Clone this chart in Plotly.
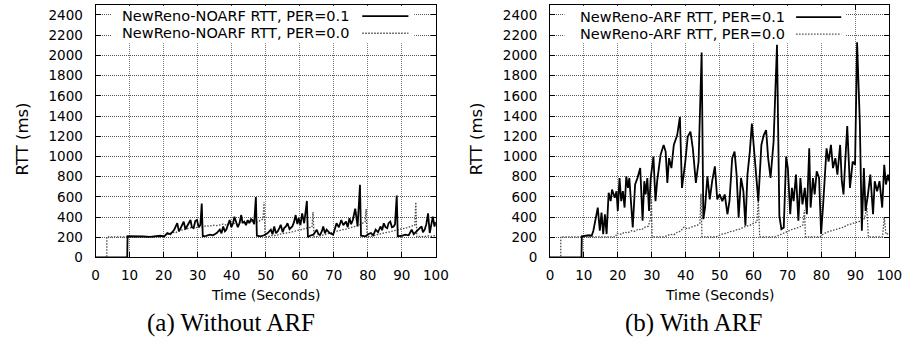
import plotly.graph_objects as go

# ---------------- data ----------------
# (a) Without ARF : PER = 0.1
noarf_p1_t = [0, 9.3, 9.4, 12, 14, 16, 18, 19, 20.2, 21.1, 22, 23.1, 24, 24.5, 25, 25.5, 25.9, 26.4,
              26.9, 27.4, 27.9, 28.3, 28.8, 29.3, 29.8, 30.3, 30.8, 31.2, 31.5, 32.5, 33.6, 34.5,
              35.6, 36.5, 37, 37.5, 38, 38.4, 38.9, 39.4, 39.9, 40.4, 40.8, 41.3, 41.8, 42.3, 42.8,
              43.2, 43.7, 44.2, 44.7, 45.2, 45.7, 46.1, 46.6, 47.1, 47.4, 48.5, 49.5, 50.6, 51.5,
              52, 52.5, 53, 53.5, 54, 54.4, 55, 55.4, 56, 56.4, 57, 57.8, 58.3, 58.8, 59.3, 59.7,
              60.2, 60.7, 61.3, 62.1, 62.4, 63, 64, 65, 65.5, 66, 66.5, 66.9, 67.4, 67.9, 68.8,
              69.8, 70.3, 70.8, 71.5, 72.2, 72.8, 73.6, 74.1, 74.6, 75.1, 75.6, 76.3, 77, 77.7, 78,
              79.4, 80.1, 80.9, 81.6, 82.3, 83, 83.7, 84.2, 84.7, 85.2, 85.7, 86.1, 86.6, 87.1,
              87.6, 88, 88.5, 88.8, 90, 91, 92, 92.9, 93.5, 94.3, 95, 95.8, 96.2, 96.7, 97.2, 97.7,
              98.2, 98.6, 99.1, 99.6, 100]
noarf_p1_v = [0, 0, 210, 212, 208, 205, 210, 215, 210, 242, 230, 275, 340, 260, 290, 330, 355, 280,
              307, 345, 371, 300, 290, 360, 371, 300, 323, 533, 210, 215, 226, 220,
              242, 275, 240, 307, 260, 275, 330, 371, 300, 339, 404, 340, 300, 339, 420,
              340, 355, 320, 370, 340, 380, 371, 330, 598, 215, 210, 220, 242, 275,
              230, 307, 240, 258, 290, 323, 250, 290, 310, 339, 280, 307, 350, 420, 330, 388,
              320, 436, 339, 560, 200, 215, 226, 275, 230, 226, 260, 307, 240, 275, 242,
              226, 280, 339, 300, 371, 320, 355, 300, 388, 330, 371, 484, 307, 720, 215,
              210, 230, 242, 220, 275, 250, 307, 270, 339, 300, 290, 340, 355, 300,
              307, 330, 613, 210, 215, 226, 220, 275, 230, 258, 280, 307, 250, 275, 330, 436,
              242, 330, 404, 307, 350]

# (a) Without ARF : PER = 0.0
noarf_p0_t = [0, 3.3, 3.3, 19.5, 20.5, 21.5, 22.5, 23.5, 24.5, 25.5, 26.5, 27.5, 28.5, 29.5, 30.5,
              31.5, 32.5, 33.5, 34.5, 35.5, 36.5, 37.5, 38.5, 39.5, 40.5, 41.5, 42.5, 43.5, 44.5,
              45.5, 46.5, 47.5, 48.5, 49.2, 49.5, 49.8, 51, 52, 53, 54, 55, 56, 57, 58, 59, 60, 61,
              62, 63, 63.6, 63.9, 64.2, 65.5, 66.5, 67.5, 68.5, 69.5, 70.5, 71.5, 72.5, 73.5, 74.5,
              75.5, 76.5, 77.5, 78.5, 79.2, 79.5, 79.8, 81, 82, 83, 84, 85, 86, 87, 88, 89, 90, 91,
              92, 93, 93.8, 94.1, 94.4, 95.5, 96.5, 97.5, 98.5, 99.5, 100]
noarf_p0_v = [0, 0, 205, 205, 220, 230, 250, 245, 265, 270, 280, 290, 300, 295, 305,
              300, 315, 310, 320, 315, 325, 330, 320, 335, 340, 330, 345, 350, 340,
              355, 360, 350, 370, 380, 550, 205, 210, 220, 215, 230, 235, 240, 250, 255, 265, 270, 280,
              290, 300, 300, 450, 205, 210, 220, 230, 240, 245, 255, 265, 275, 280, 290,
              300, 310, 320, 340, 350, 480, 205, 210, 220, 225, 235, 245, 250, 260, 265, 275, 285, 290,
              300, 310, 320, 548, 205, 210, 205, 215, 210, 215, 210]

# (b) With ARF : PER = 0.1
arf_p1_t = [0, 9.3, 9.4, 10.5, 11.5, 12.3, 12.8, 14.1, 14.7, 15.2, 15.7, 16.2, 16.7, 17.3, 17.9,
            18.3, 19.1, 19.6, 20.0, 20.5, 21.0, 21.5, 22.0, 22.5, 23.0, 23.4, 23.9, 24.4, 25.1,
            25.8, 26.6, 27.3, 27.8, 28.2, 28.7, 29.2, 29.7, 30.5, 31.1, 31.6, 32.6, 33.5, 34.1,
            34.6, 35.1, 35.8, 36.5, 37.5, 38.3, 38.9, 39.9, 40.6, 41.4, 42.1, 43.0, 43.8, 44.7,
            45.2, 45.7, 46.4, 47.1, 47.8, 48.6, 49.3, 50.0, 50.8, 51.5, 52.3, 52.9, 53.7, 54.4,
            55.0, 55.6, 56.3, 57.0, 57.6, 58.2, 58.9, 59.5, 60.2, 60.8, 61.4, 62.3, 63.0, 63.7,
            64.3, 65.0, 65.9, 66.9, 67.6, 68.2, 68.9, 69.6, 70.1, 70.8, 71.3, 71.8, 72.5, 73.2,
            73.8, 74.4, 75.1, 75.7, 76.4, 76.8, 77.5, 78.0, 78.6, 79.3, 79.9, 80.5, 81.5, 82.1,
            82.8, 83.4, 84.1, 84.7, 85.5, 86.0, 86.5, 87.0, 87.6, 88.4, 89.2, 89.9, 90.5, 91.3,
            91.9, 92.5, 93.0, 93.7, 94.4, 95.2, 95.7, 96.4, 97.1, 97.9, 98.5, 99.0, 99.6, 100]
arf_p1_v = [0, 0, 210, 215, 220, 216, 265, 494, 265, 444, 232, 428, 232, 640, 558,
            673, 591, 656, 461, 787, 558, 656, 494, 804, 689, 787, 526, 297, 722,
            787, 885, 363, 755, 624, 787, 461, 787, 999, 558, 755, 1016, 1114, 1048,
            738, 983, 885, 1114, 1212, 1391, 689, 950, 1196, 1245, 1081, 738, 950, 2028,
            379, 494, 804, 575, 755, 902, 575, 624, 558, 624, 428, 558, 983, 1048,
            820, 395, 787, 656, 314, 820, 1048, 1326, 1016, 755, 558, 1114, 1212, 1261,
            983, 787, 1147, 2105, 412, 281, 297, 999, 885, 428, 689, 558, 820, 363,
            787, 526, 689, 428, 1081, 494, 787, 624, 853, 787, 232, 526, 1081, 950,
            1114, 885, 983, 820, 1114, 755, 624, 950, 1300, 689, 950, 918, 2130, 1343,
            265, 885, 461, 624, 820, 428, 755, 656, 755, 494, 918, 722, 820, 755]

# (b) With ARF : PER = 0.0
arf_p0_t = [0, 3.2, 3.2, 19.3, 19.8, 21, 22, 23, 24, 25, 26, 27, 28, 29, 29.6, 29.9, 30.1, 33.5,
            34.5, 35.5, 36.5, 37.5, 38.5, 39.5, 40.5, 41.5, 42.5, 43.5, 44.2, 44.5, 44.8, 49, 50,
            51, 52, 53, 54, 55, 56, 57, 58, 59, 60, 61, 61.4, 61.8, 66.5, 67.5, 68.5, 69.5, 70.5,
            71.5, 72.5, 73.5, 74.5, 75, 75.3, 79.6, 80.5, 81.5, 82.5, 83.5, 84.5, 85.5, 86.5,
            87.5, 88.5, 89.5, 90.5, 91.5, 92.5, 93.4, 93.8, 98, 98.5, 99, 100]
arf_p0_v = [0, 0, 205, 205, 240, 230, 250, 245, 265, 260, 280, 275, 300, 310, 380, 600, 205, 205,
            215, 230, 225, 250, 260, 300, 285, 300, 310, 320, 340, 630, 205, 205, 220,
            235, 240, 255, 260, 275, 280, 300, 310, 320, 340, 350, 580, 205, 205, 220, 240, 255, 265,
            280, 290, 300, 320, 470, 205, 205, 230, 250, 260, 270, 285, 290, 300,
            320, 330, 340, 355, 360, 370, 490, 205, 205, 400, 230, 240]

x_ticks = list(range(0, 101, 10))
y_ticks = list(range(0, 2401, 200))

legend_a = ["NewReno-NOARF RTT, PER=0.1", "NewReno-NOARF RTT, PER=0.0"]
legend_b = ["NewReno-ARF RTT, PER=0.1", "NewReno-ARF RTT, PER=0.0"]
captions = ["(a) Without ARF", "(b) With ARF"]
x_title = "Time (Seconds)"
y_title = "RTT (ms)"

# ---------------- styling ----------------
W, H = 920, 351
SANS = "DejaVu Sans"
SERIF = "Liberation Serif"
SOLID = dict(color="black", width=1.8)
DOTTED = dict(color="#4a4a4a", width=1.3, dash="1.5px,1.5px")


def px(x):
    return x / W


def py(y):
    return (H - y) / H


fig = go.Figure()
fig.add_trace(go.Scatter(x=noarf_p0_t, y=noarf_p0_v, mode="lines", line=DOTTED,
                         xaxis="x", yaxis="y", showlegend=False))
fig.add_trace(go.Scatter(x=noarf_p1_t, y=noarf_p1_v, mode="lines", line=SOLID,
                         xaxis="x", yaxis="y", showlegend=False))
fig.add_trace(go.Scatter(x=arf_p0_t, y=arf_p0_v, mode="lines", line=DOTTED,
                         xaxis="x2", yaxis="y2", showlegend=False))
fig.add_trace(go.Scatter(x=arf_p1_t, y=arf_p1_v, mode="lines", line=SOLID,
                         xaxis="x2", yaxis="y2", showlegend=False))

ydom = [py(263.5), py(5)]
common_x = dict(range=[0, 100], tickvals=x_ticks, ticks="inside", ticklen=5, tickcolor="black",
                mirror="allticks", showline=True, linecolor="black", linewidth=1,
                showgrid=True, gridcolor="#7a7a7a", griddash="1px,1px", gridwidth=1,
                zeroline=False, tickfont=dict(family=SANS, size=13.5, color="black"),
                ticklabelstandoff=5, fixedrange=True)
common_y = dict(range=[0, 2500], tickvals=y_ticks, ticks="inside", ticklen=5, tickcolor="black",
                mirror="allticks", showline=True, linecolor="black", linewidth=1,
                showgrid=True, gridcolor="#555555", griddash="1px,1px", gridwidth=1,
                zeroline=False, tickfont=dict(family=SANS, size=13.5, color="black"),
                ticklabelstandoff=9, domain=ydom, fixedrange=True)

fig.update_layout(
    width=W, height=H, margin=dict(l=0, r=0, t=0, b=0),
    paper_bgcolor="white", plot_bgcolor="white", showlegend=False,
    xaxis=dict(common_x, domain=[px(93.3), px(440)], anchor="y"),
    yaxis=dict(common_y, anchor="x"),
    xaxis2=dict(common_x, domain=[px(556.2), px(902)], anchor="y2"),
    yaxis2=dict(common_y, anchor="x2"),
)

shapes = []
annotations = []

# legend boxes (gnuplot style key: text right-aligned, sample to the right)
for (bx0, bx1, text_right, s0, s1, rows, labels) in [
    (110, 418, 353, 365, 412, (16.5, 34), legend_a),
    (571, 858, 797, 807, 853, (17.5, 35), legend_b),
]:
    shapes.append(dict(type="rect", xref="paper", yref="paper", x0=px(bx0), x1=px(bx1),
                       y0=py(43), y1=py(6), fillcolor="white", line=dict(width=0), layer="above"))
    for i, (ry, lab) in enumerate(zip(rows, labels)):
        annotations.append(dict(text=lab, xref="paper", yref="paper", x=px(text_right), y=py(ry),
                                xanchor="right", yanchor="middle", showarrow=False, borderpad=0,
                                font=dict(family=SANS, size=14.5, color="black")))
        style = SOLID if i == 0 else DOTTED
        shapes.append(dict(type="line", xref="paper", yref="paper", x0=px(s0), x1=px(s1),
                           y0=py(ry), y1=py(ry), line=style, layer="above"))

# axis titles and captions
for cx, ytx, capx, cap in [(266.7, 19, 231, captions[0]), (729, 481.5, 702, captions[1])]:
    annotations.append(dict(text=x_title, xref="paper", yref="paper", x=px(cx), y=py(302),
                            xanchor="center", yanchor="middle", showarrow=False,
                            font=dict(family=SANS, size=14, color="black")))
    annotations.append(dict(text=y_title, xref="paper", yref="paper", x=px(ytx), y=py(142),
                            xanchor="center", yanchor="middle", showarrow=False, textangle=-90,
                            font=dict(family=SANS, size=16.5, color="black")))
    annotations.append(dict(text=cap, xref="paper", yref="paper", x=px(capx), y=py(331),
                            xanchor="center", yanchor="middle", showarrow=False,
                            font=dict(family=SERIF, size=25, color="black")))

fig.update_layout(shapes=shapes, annotations=annotations)
fig.write_html("out.html", config={"displayModeBar": False},
               post_script="document.body.style.margin='0';")
